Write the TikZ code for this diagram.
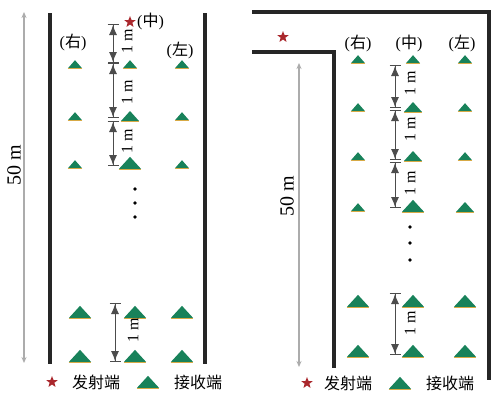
\documentclass[tikz,border=0pt]{standalone}
\usepackage{fontspec}
\setmainfont{Liberation Serif}
\newfontfamily\cjk{Noto Sans CJK SC}
\usetikzlibrary{shapes.geometric,arrows.meta}
\definecolor{rgreen}{RGB}{24,130,90}
\definecolor{ryellow}{RGB}{215,170,70}
\definecolor{starred}{RGB}{170,40,45}
\tikzset{
  wall/.style={line width=3.2pt, draw=black!85},
  span/.style={draw=gray!65, line width=1.4pt, {Stealth[length=6pt,width=5pt]}-{Stealth[length=6pt,width=5pt]}},
  dim/.style={draw=black!70, line width=1pt, {Bar[width=11pt]Latex[length=10pt,width=8pt]}-{Latex[length=10pt,width=8pt]Bar[width=11pt]}},
  rx/.style={isosceles triangle, isosceles triangle stretches, shape border rotate=90, fill=rgreen, inner sep=0pt, minimum width=14pt, minimum height=8pt,
    append after command={(\tikzlastnode.left corner) edge[draw=ryellow, line width=0.8pt] (\tikzlastnode.right corner)}},
  rxm/.style={rx, minimum width=18pt, minimum height=10pt},
  rxl/.style={rx, minimum width=22pt, minimum height=12pt},
  tx/.style={star, star points=5, star point ratio=2.4, fill=starred, inner sep=0pt, minimum size=12pt},
  dot/.style={circle, fill=black, inner sep=0pt, minimum size=3.6pt},
  lbl/.style={font=\fontsize{16}{16}\selectfont, inner sep=0pt},
  mlbl/.style={font=\fontsize{16}{16}\selectfont, inner sep=0pt, rotate=90},
  blbl/.style={font=\fontsize{20}{20}\selectfont, inner sep=0pt, rotate=90},
}
\begin{document}
\begin{tikzpicture}[x=1pt,y=-1pt]
\useasboundingbox[fill=white] (0,0) rectangle (493,392);

% ================= LEFT PANEL =================
\coordinate (lw1) at (50,13);  \coordinate (lw2) at (50,364);
\coordinate (rw1) at (205,13); \coordinate (rw2) at (205,364);
\draw[wall] (lw1) -- (lw2);
\draw[wall] (rw1) -- (rw2);
\coordinate (ls1) at (24,12); \coordinate (ls2) at (24,363);
\draw[span] (ls1) -- (ls2);
\node[blbl] (l50) at (14,165) {50 m};

\node[tx] (ltx) at (130,22) {};
\node[lbl, anchor=west] (lzh) at (137,21) {(\cjk 中\rm)};
\node[lbl] (lyou) at (73,42) {(\cjk 右\rm)};
\node[lbl] (lzuo) at (180,50) {(\cjk 左\rm)};

\node[rx]  (la1) at (75,65) {};
\node[rx]  (lb1) at (130,65) {};
\node[rx]  (lc1) at (182,65) {};
\node[rx]  (la2) at (75,117) {};
\node[rxm] (lb2) at (130,117) {};
\node[rx]  (lc2) at (182,117) {};
\node[rx]  (la3) at (75,165) {};
\node[rxl] (lb3) at (130,164) {};
\node[rx]  (lc3) at (182,165) {};

\coordinate (ld0) at (113,24);
\coordinate (ld1) at (113,63);
\coordinate (ld2) at (113,118);
\coordinate (ld2b) at (113,121);
\coordinate (ld3) at (113,166);
\draw[dim] (ld0) -- (ld1);
\draw[dim] (ld1) -- (ld2);
\draw[dim] (ld2b) -- (ld3);
\node[mlbl] (lm1) at (127,41) {1 m};
\node[mlbl] (lm2) at (127,92) {1 m};
\node[mlbl] (lm3) at (127,141) {1 m};

\node[dot] (ldt1) at (135,189) {};
\node[dot] (ldt2) at (135,203) {};
\node[dot] (ldt3) at (135,217) {};

\node[rxl] (la4) at (80,313) {};
\node[rxl] (lb4) at (135,313) {};
\node[rxl] (lc4) at (182,313) {};
\node[rxl] (la5) at (80,357) {};
\node[rxl] (lb5) at (135,357) {};
\node[rxl] (lc5) at (182,357) {};
\coordinate (ld4) at (115,303);
\coordinate (ld5) at (115,362);
\draw[dim] (ld4) -- (ld5);
\node[mlbl] (lm4) at (133,330) {1 m};

% legend
\node[tx] (lgs) at (52,382) {};
\node[lbl] (lgst) at (96,382) {\cjk 发射端};
\node[rxl] (lgr) at (148,383) {};
\node[lbl] (lgrt) at (198,382) {\cjk 接收端};

% ================= RIGHT PANEL =================
\coordinate (ow1) at (252,12); \coordinate (ow2) at (489,12); \coordinate (ow3) at (489,380);
\coordinate (iw1) at (252,52); \coordinate (iw2) at (334,52); \coordinate (iw3) at (334,368);
\draw[wall] (ow1) -- (ow2) -- (ow3);
\draw[wall] (iw1) -- (iw2) -- (iw3);
\coordinate (rs1) at (299,63); \coordinate (rs2) at (299,367);
\draw[span] (rs1) -- (rs2);
\node[blbl] (r50) at (287,196) {50 m};

\node[tx] (rtx) at (283,37) {};
\node[lbl] (ryou) at (358,43) {(\cjk 右\rm)};
\node[lbl] (rzh) at (409,43) {(\cjk 中\rm)};
\node[lbl] (rzuo) at (462,43) {(\cjk 左\rm)};

\node[rx]  (ra1) at (358,60) {};
\node[rx]  (rb1) at (413,60) {};
\node[rx]  (rc1) at (465,60) {};
\node[rx]  (ra2) at (358,108) {};
\node[rxm] (rb2) at (413,108) {};
\node[rx]  (rc2) at (465,108) {};
\node[rx]  (ra3) at (358,157) {};
\node[rxm] (rb3) at (413,157) {};
\node[rx]  (rc3) at (465,157) {};
\node[rx]  (ra4) at (358,208) {};
\node[rxl] (rb4) at (413,207) {};
\node[rxm] (rc4) at (465,208) {};

\coordinate (rd0) at (395,65);
\coordinate (rd1) at (395,108);
\coordinate (rd1b) at (395,110);
\coordinate (rd2) at (395,160);
\coordinate (rd2b) at (395,162);
\coordinate (rd3) at (395,208);
\draw[dim] (rd0) -- (rd1);
\draw[dim] (rd1b) -- (rd2);
\draw[dim] (rd2b) -- (rd3);
\node[mlbl] (rm1) at (410,83) {1 m};
\node[mlbl] (rm2) at (410,129) {1 m};
\node[mlbl] (rm3) at (410,183) {1 m};

\node[dot] (rdt1) at (410,227) {};
\node[dot] (rdt2) at (410,243) {};
\node[dot] (rdt3) at (410,260) {};

\node[rxl] (ra5) at (358,302) {};
\node[rxl] (rb5) at (413,302) {};
\node[rxl] (rc5) at (465,302) {};
\node[rxl] (ra6) at (358,352) {};
\node[rxl] (rb6) at (413,352) {};
\node[rxl] (rc6) at (465,352) {};
\coordinate (rd4) at (395,293);
\coordinate (rd5) at (395,355);
\draw[dim] (rd4) -- (rd5);
\node[mlbl] (rm4) at (410,323) {1 m};

% legend
\node[tx] (rgs) at (307,383) {};
\node[lbl] (rgst) at (348,383) {\cjk 发射端};
\node[rxl] (rgr) at (400,384) {};
\node[lbl] (rgrt) at (450,383) {\cjk 接收端};
\end{tikzpicture}
\end{document}
